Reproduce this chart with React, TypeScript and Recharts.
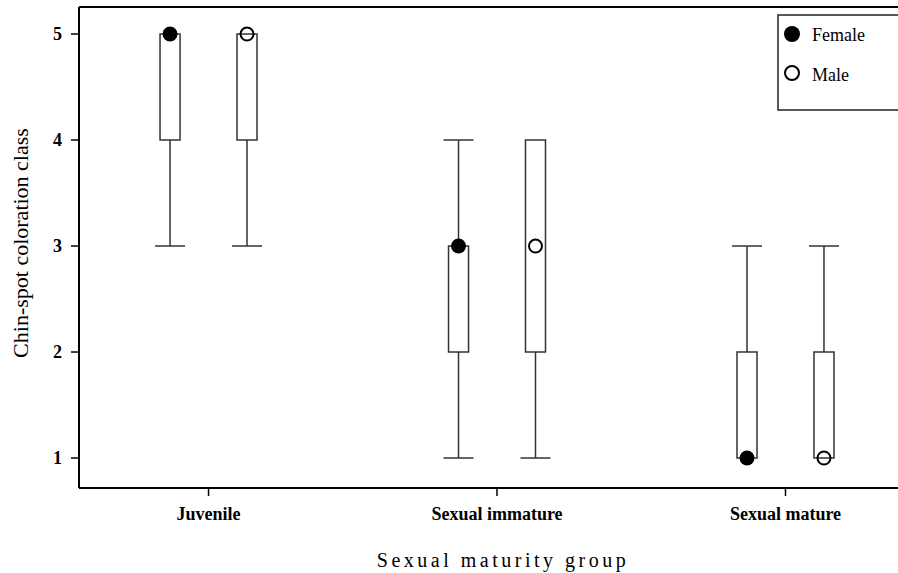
import React from 'react';
import {
  ComposedChart,
  XAxis,
  YAxis,
  ReferenceArea,
  ReferenceLine,
  Scatter,
  Customized,
} from 'recharts';

if (typeof document !== 'undefined') {
  document.body.style.margin = '0';
  document.body.style.overflow = 'hidden';
}

// ---- data ----
const categories = ['Juvenile', 'Sexual immature', 'Sexual mature'];
const categoryTicks = [1, 2, 3];
const yTicks = [1, 2, 3, 4, 5];

const femaleMin = [3, 1, 1];
const femaleQ1 = [4, 2, 1];
const femaleMedian = [5, 3, 1];
const femaleQ3 = [5, 3, 2];
const femaleMax = [5, 4, 3];

const maleMin = [3, 1, 1];
const maleQ1 = [4, 2, 1];
const maleMedian = [5, 3, 1];
const maleQ3 = [5, 4, 2];
const maleMax = [5, 4, 3];

const seriesNames = ['Female', 'Male'];

// ---- layout constants ----
const W = 898;
const H = 573;
const X_DOMAIN: [number, number] = [0.551, 3.39];
const Y_DOMAIN: [number, number] = [0.717, 5.255];
const GROUP_OFFSET = 0.1334;
const BOX_HALF = 0.0347;
const CAP_HALF = 0.052;
const SERIF = '"Liberation Serif", "Times New Roman", Times, serif';
const LINE = '#333';

type Box = { x: number; min: number; q1: number; med: number; q3: number; max: number };

function buildBoxes(
  sign: number,
  mins: number[],
  q1s: number[],
  meds: number[],
  q3s: number[],
  maxs: number[],
): Box[] {
  return categories.map((_, i) => ({
    x: categoryTicks[i] + sign * GROUP_OFFSET,
    min: mins[i],
    q1: q1s[i],
    med: meds[i],
    q3: q3s[i],
    max: maxs[i],
  }));
}

const femaleBoxes = buildBoxes(-1, femaleMin, femaleQ1, femaleMedian, femaleQ3, femaleMax);
const maleBoxes = buildBoxes(1, maleMin, maleQ1, maleMedian, maleQ3, maleMax);

const femalePoints = femaleBoxes.map((b) => ({ x: b.x, y: b.med }));
const malePoints = maleBoxes.map((b) => ({ x: b.x, y: b.med }));

function renderBox(b: Box, key: string) {
  const els: React.ReactNode[] = [];
  if (b.min < b.q1) {
    els.push(
      <ReferenceLine
        key={key + 'lw'}
        segment={[{ x: b.x, y: b.min }, { x: b.x, y: b.q1 }]}
        stroke={LINE}
        strokeWidth={1.5}
      />,
    );
    els.push(
      <ReferenceLine
        key={key + 'lc'}
        segment={[{ x: b.x - CAP_HALF, y: b.min }, { x: b.x + CAP_HALF, y: b.min }]}
        stroke={LINE}
        strokeWidth={1.5}
      />,
    );
  }
  if (b.max > b.q3) {
    els.push(
      <ReferenceLine
        key={key + 'uw'}
        segment={[{ x: b.x, y: b.q3 }, { x: b.x, y: b.max }]}
        stroke={LINE}
        strokeWidth={1.5}
      />,
    );
    els.push(
      <ReferenceLine
        key={key + 'uc'}
        segment={[{ x: b.x - CAP_HALF, y: b.max }, { x: b.x + CAP_HALF, y: b.max }]}
        stroke={LINE}
        strokeWidth={1.5}
      />,
    );
  }
  els.push(
    <ReferenceArea
      key={key + 'box'}
      x1={b.x - BOX_HALF}
      x2={b.x + BOX_HALF}
      y1={b.q1}
      y2={b.q3}
      fill="#fff"
      fillOpacity={1}
      stroke={LINE}
      strokeWidth={1.5}
    />,
  );
  return els;
}

const FemaleDot = (props: any) => <circle cx={props.cx} cy={props.cy} r={7.5} fill="#000" />;
const MaleDot = (props: any) => (
  <circle cx={props.cx} cy={props.cy} r={6.5} fill="none" stroke="#000" strokeWidth={2} />
);

const Decorations = () => (
  <g>
    {/* legend */}
    <rect x={778} y={15} width={140} height={95} fill="#fff" stroke="#222" strokeWidth={1.5} />
    <circle cx={792} cy={34} r={8} fill="#000" />
    <text x={812} y={41} fontFamily={SERIF} fontSize={18} fill="#000">
      {seriesNames[0]}
    </text>
    <circle cx={792} cy={73} r={7} fill="none" stroke="#000" strokeWidth={2} />
    <text x={812} y={81} fontFamily={SERIF} fontSize={18} fill="#000">
      {seriesNames[1]}
    </text>
    {/* axis titles */}
    <text
      x={28}
      y={243}
      transform="rotate(-90, 28, 243)"
      textAnchor="middle"
      fontFamily={SERIF}
      fontSize={22}
      fill="#000"
    >
      Chin-spot coloration class
    </text>
    <text
      x={503}
      y={567}
      textAnchor="middle"
      fontFamily={SERIF}
      fontSize={20}
      letterSpacing={3.5}
      fill="#000"
    >
      Sexual maturity group
    </text>
  </g>
);

export default function App() {
  return (
    <div style={{ width: W, height: H, overflow: 'hidden', background: '#fff' }}>
      <ComposedChart width={W} height={H} margin={{ top: 7, right: 0, bottom: 0, left: 0 }}>
        <XAxis
          dataKey="x"
          type="number"
          domain={X_DOMAIN}
          allowDataOverflow
          ticks={categoryTicks}
          tickFormatter={(v: number) => categories[Math.round(v) - 1] ?? ''}
          height={85}
          axisLine={{ stroke: '#000', strokeWidth: 2 }}
          tickLine={{ stroke: '#000', strokeWidth: 1.5 }}
          tickSize={8}
          tickMargin={11}
          tick={{ fontFamily: SERIF, fontSize: 18, fontWeight: 'bold', fill: '#000' }}
          interval={0}
        />
        <YAxis
          dataKey="y"
          type="number"
          domain={Y_DOMAIN}
          allowDataOverflow
          ticks={yTicks}
          width={79}
          axisLine={{ stroke: '#000', strokeWidth: 2 }}
          tickLine={{ stroke: '#000', strokeWidth: 1.5 }}
          tickSize={8}
          tickMargin={9}
          tick={{ fontFamily: SERIF, fontSize: 18, fontWeight: 'bold', fill: '#000' }}
          interval={0}
        />
        <ReferenceLine y={Y_DOMAIN[1]} stroke="#000" strokeWidth={2} />
        {femaleBoxes.flatMap((b, i) => renderBox(b, 'f' + i))}
        {maleBoxes.flatMap((b, i) => renderBox(b, 'm' + i))}
        <Scatter
          name={seriesNames[0]}
          data={femalePoints}
          shape={FemaleDot}
          isAnimationActive={false}
        />
        <Scatter
          name={seriesNames[1]}
          data={malePoints}
          shape={MaleDot}
          isAnimationActive={false}
        />
        <Customized component={Decorations} />
      </ComposedChart>
    </div>
  );
}
